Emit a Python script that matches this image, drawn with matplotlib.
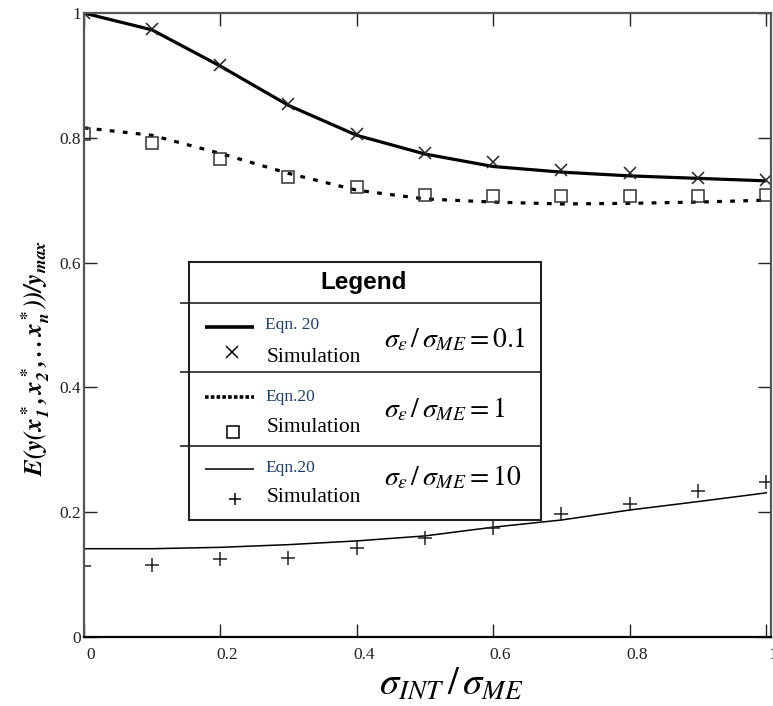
import matplotlib
matplotlib.use("Agg")
import matplotlib.pyplot as plt
import matplotlib.transforms as mtransforms

plt.rcParams["mathtext.fontset"] = "stix"
plt.rcParams["font.family"] = ["Liberation Serif", "DejaVu Serif"]

# values
ratio_int = [0.0, 0.1, 0.2, 0.3, 0.4, 0.5, 0.6, 0.7, 0.8, 0.9, 1.0]
eqn_01 = [1.0, 0.973, 0.915, 0.852, 0.804, 0.774, 0.754, 0.745, 0.739, 0.735, 0.731]
sim_01 = [1.0, 0.974, 0.917, 0.854, 0.806, 0.776, 0.762, 0.749, 0.744, 0.735, 0.732]
eqn_1 = [0.816, 0.804, 0.775, 0.743, 0.716, 0.702, 0.697, 0.694, 0.695, 0.697, 0.700]
sim_1 = [0.806, 0.791, 0.766, 0.737, 0.721, 0.709, 0.706, 0.707, 0.707, 0.706, 0.709]
eqn_10 = [0.1415, 0.1415, 0.1437, 0.148, 0.154, 0.162, 0.176, 0.1875, 0.2035, 0.217, 0.231]
sim_10 = [0.114, 0.115, 0.1245, 0.127, 0.143, 0.159, 0.175, 0.197, 0.213, 0.234, 0.249]

ticks = [0, 0.2, 0.4, 0.6, 0.8, 1.0]
tick_labels = ["0", "0.2", "0.4", "0.6", "0.8", "1"]

W, H = 773, 706
fig = plt.figure(figsize=(W / 100, H / 100), dpi=100)
ax = fig.add_axes([83.7 / W, (H - 637) / H, 687.3 / W, 624 / H])

dot_style = (0, (1.5, 2.6))
ax.plot(ratio_int, eqn_01, color="black", lw=2.3, solid_capstyle="butt")
ax.plot(ratio_int, sim_01, ls="none", marker="x", ms=9, mew=1.1, color="#222222")
ax.plot(ratio_int, eqn_1, color="black", lw=2.3, ls=dot_style, dash_capstyle="butt")
ax.plot(ratio_int, sim_1, ls="none", marker="s", ms=8, mew=1.1, mfc="none", mec="#333333")
ax.plot(ratio_int, eqn_10, color="black", lw=1.1)
ax.plot(ratio_int, sim_10, ls="none", marker="+", ms=10, mew=1.1, color="#222222")

ax.set_xlim(0, 1.007)
ax.set_ylim(0, 1)
ax.set_xticks(ticks)
ax.set_xticklabels(tick_labels)
ax.set_yticks(ticks)
ax.set_yticklabels(tick_labels)
ax.tick_params(direction="in", length=9.5, width=1.0, top=True, right=True,
               labelsize=12.5, colors="#222222")
ax.tick_params(axis="y", pad=2)
ax.tick_params(axis="x", pad=7)
for lab in ax.get_xticklabels():
    lab.set_transform(lab.get_transform()
                      + mtransforms.ScaledTranslation(0.07, 0, fig.dpi_scale_trans))
for side in ["left", "top", "right"]:
    ax.spines[side].set_color("#555555")
    ax.spines[side].set_linewidth(1.6)
ax.spines["bottom"].set_color("black")
ax.spines["bottom"].set_linewidth(1.6)

# axis titles
fig.text(451 / W, 1 - 684 / H, r"$\sigma_{INT}\,/\,\sigma_{ME}$", fontsize=28,
         ha="center", va="center")
fig.text(36 / W, 1 - 358 / H,
         r"$\mathbfit{E(y(x_1^*,x_2^*,..x_n^*))/y_{max}}$",
         fontsize=18, rotation=90, ha="center", va="center")

# legend box, drawn in its own pixel-like coordinates
lx0, ly0, lw, lh = 189, 262, 352, 258
leg = fig.add_axes([lx0 / W, (H - ly0 - lh) / H, lw / W, lh / H])
leg.set_xlim(0, lw)
leg.set_ylim(lh, 0)
leg.set_xticks([])
leg.set_yticks([])
for s in leg.spines.values():
    s.set_linewidth(1.5)
    s.set_color("#222222")

for yy in [41, 110, 184]:
    leg.plot([-8, lw], [yy, yy], color="#333333", lw=1.3, clip_on=False)

leg.text(175, 21, "Legend", family="Liberation Sans", weight="bold",
         fontsize=17.5, ha="center", va="center")

navy = "#1f3d6b"
rows = [
    dict(y_line=65, y_eqn=63, eqn="Eqn. 20", mk=(43, 90), marker="x",
         y_sim=95, y_f=78, val="0.1", ls="-", lwid=2.6),
    dict(y_line=135, y_eqn=135, eqn="Eqn.20", mk=(44, 170), marker="s",
         y_sim=165, y_f=148, val="1", ls=(0, (1, 0.6)), lwid=2.6),
    dict(y_line=207, y_eqn=206, eqn="Eqn.20", mk=(46, 237), marker="+",
         y_sim=235, y_f=216, val="10", ls="-", lwid=1.1),
]
for r in rows:
    leg.plot([16, 65], [r["y_line"], r["y_line"]], color="black",
             lw=r["lwid"], ls=r["ls"], solid_capstyle="butt", dash_capstyle="butt")
    leg.text(76, r["y_eqn"], r["eqn"], color=navy, fontsize=12.5, va="center")
    if r["marker"] == "s":
        leg.plot(*r["mk"], marker="s", ms=8, mfc="none", mec="black", mew=1.1)
    else:
        leg.plot(*r["mk"], marker=r["marker"], ms=9, mew=1.1, color="black")
    leg.text(78, r["y_sim"], "Simulation", fontsize=15.5, va="center")
    leg.text(195, r["y_f"], r"$\sigma_{\varepsilon}\,/\,\sigma_{ME} = %s$" % r["val"],
             fontsize=20, va="center")

fig.savefig("out.png", dpi=100)
